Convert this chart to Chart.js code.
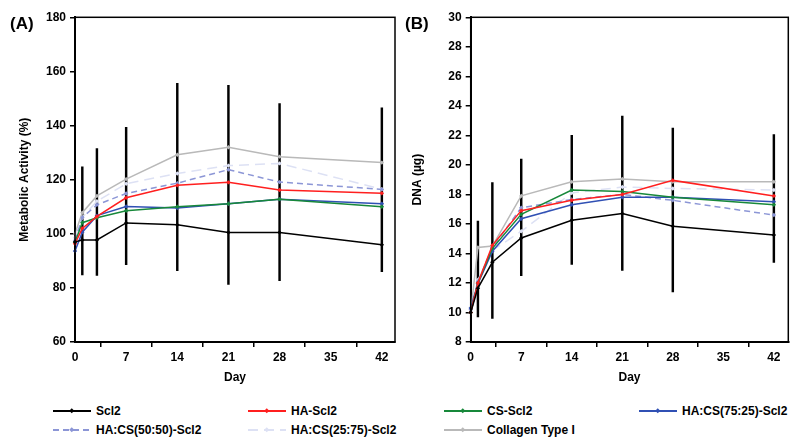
<!DOCTYPE html>
<html lang="en">
<head>
<meta charset="UTF-8">
<title>Metabolic Activity and DNA</title>
<script src="https://cdn.jsdelivr.net/npm/chart.js"></script>
<style>
    body { margin: 0; background: #fff; font-family: "Liberation Sans", Arial, sans-serif; }
    #wrap { position: relative; width: 800px; height: 447px; overflow: hidden; }
    canvas { position: absolute; top: 0; }
    #chartA { left: 0; }
    #chartB { left: 400px; }
    .panel-label { position: absolute; top: 15px; font-weight: bold; font-size: 17px; line-height: 18px; color: #000; }
    .item { position: absolute; display: flex; align-items: center; font-weight: bold; font-size: 12px; color: #000; white-space: nowrap; }
    .item svg { margin-right: 5px; }
</style>
</head>
<body>
<div id="wrap">
    <canvas id="chartA" width="400" height="385"></canvas>
    <canvas id="chartB" width="400" height="385"></canvas>
    <div class="panel-label" style="left:10px">(A)</div>
    <div class="panel-label" style="left:405px">(B)</div>
    <div id="legend"></div>
</div>

<script>
    // === Data ===
    const days = [0, 1, 3, 7, 14, 21, 28, 42];
    const seriesNames = ['Scl2', 'HA-Scl2', 'CS-Scl2', 'HA:CS(75:25)-Scl2', 'HA:CS(50:50)-Scl2', 'HA:CS(25:75)-Scl2', 'Collagen Type I'];

    // (A) metabolic activity, %
    const scl2A = [97, 97.7, 97.7, 104, 103.3, 100.5, 100.5, 95.9];
    const haA = [96.3, 102, 106.4, 113.3, 117.9, 119, 116.2, 115];
    const csA = [96.9, 104.1, 105.9, 108.5, 110, 111.1, 112.8, 110];
    const ha7525A = [93.6, 100.6, 106.7, 110.1, 109.5, 111.1, 112.8, 111.1];
    const ha5050A = [97.5, 106, 110.7, 114.9, 118.7, 123.7, 119.1, 116.4];
    const ha2575A = [98.5, 106, 112, 118.5, 122.3, 125.2, 126, 116.5];
    const colA = [100, 107.8, 114, 120.2, 129.2, 132, 128.5, 126.3];

    // (B) DNA, µg
    const scl2B = [10, 11.65, 13.4, 15.05, 16.25, 16.7, 15.85, 15.25];
    const haB = [10, 12, 14.55, 16.9, 17.6, 18, 18.95, 17.9];
    const csB = [10, 12, 14.35, 16.65, 18.3, 18.2, 17.8, 17.3];
    const ha7525B = [10.3, 11.95, 14.15, 16.35, 17.3, 17.8, 17.8, 17.5];
    const ha5050B = [10.2, 12.1, 14.4, 17.1, 17.65, 18, 17.6, 16.6];
    const ha2575B = [10.1, 12.2, 14.2, 15.5, 18.1, 18.5, 18.4, 18.3];
    const colB = [10, 14.4, 14.5, 17.9, 18.85, 19.05, 18.85, 18.85];

    // error bars (black)
    const errDays = [1, 3, 7, 14, 21, 28, 42];
    const errLoA = [84.8, 84.6, 88.6, 86.4, 81.3, 82.7, 86];
    const errHiA = [124.7, 131.5, 139.3, 155.6, 154.9, 148.1, 146.5];
    const errLoB = [9.7, 9.6, 12.5, 13.25, 12.85, 11.4, 13.4];
    const errHiB = [16.2, 18.8, 20.4, 22, 23.3, 22.5, 22.05];

    const xTicks = [0, 7, 14, 21, 28, 35, 42];
    const yTicksA = [60, 80, 100, 120, 140, 160, 180];
    const yTicksB = [8, 10, 12, 14, 16, 18, 20, 22, 24, 26, 28, 30];

    // === Styles ===
    const colors = ['#000000', '#ff1f1f', '#17883a', '#3050b4', '#8c96d6', '#dde1f4', '#b9b9b9'];
    const dashes = [[], [], [], [], [6, 4], [10, 6], []];
    const fontBold = { family: '"Liberation Sans", Arial, sans-serif', size: 12, weight: 'bold' };

    const boxPlugin = {
        id: 'box',
        afterDatasetsDraw(chart) {
            const { ctx, chartArea: a } = chart;
            ctx.save();
            ctx.strokeStyle = '#000';
            ctx.lineWidth = 1.5;
            ctx.strokeRect(a.left, a.top, a.right - a.left, a.bottom - a.top);
            ctx.restore();
        }
    };

    function makePanel(id, series, errLo, errHi, yTicks, yTitle, xMax, padLeft, yWidth, padRight) {
        const datasets = series.map((vals, i) => ({
            type: 'line',
            label: seriesNames[i],
            data: days.map((d, j) => ({ x: d, y: vals[j] })),
            borderColor: colors[i],
            backgroundColor: colors[i],
            borderWidth: 1.5,
            borderDash: dashes[i],
            pointStyle: 'rectRot',
            pointRadius: 2.2,
            pointBorderWidth: 0,
            tension: 0,
            clip: false,
            order: 1
        }));
        datasets.push({
            type: 'bar',
            label: 'error',
            data: errDays.map((d, j) => ({ x: d, y: [errLo[j], errHi[j]] })),
            backgroundColor: '#000',
            borderWidth: 0,
            barThickness: 1.8,
            grouped: false,
            order: 99
        });

        const yMin = yTicks[0], yMax = yTicks[yTicks.length - 1];
        new Chart(document.getElementById(id), {
            type: 'line',
            data: { datasets },
            options: {
                responsive: false,
                animation: false,
                layout: { padding: { left: padLeft, top: 17.3, right: padRight, bottom: 0 } },
                plugins: { legend: { display: false }, tooltip: { enabled: false } },
                scales: {
                    x: {
                        type: 'linear', min: 0, max: xMax, offset: false,
                        afterBuildTicks: s => { s.ticks = xTicks.map(v => ({ value: v })); },
                        ticks: { color: '#000', font: fontBold, padding: 3, maxRotation: 0, autoSkip: false },
                        grid: { display: true, drawOnChartArea: false, drawTicks: true, tickLength: 5, color: '#000', lineWidth: 1.5 },
                        border: { display: true, color: '#000', width: 2 },
                        title: { display: true, text: 'Day', color: '#000', font: fontBold, padding: 0 },
                        afterFit: s => { s.height = 43; }
                    },
                    y: {
                        type: 'linear', min: yMin, max: yMax,
                        afterBuildTicks: s => { s.ticks = yTicks.map(v => ({ value: v })); },
                        ticks: { color: '#000', font: fontBold, padding: 4, autoSkip: false },
                        grid: { display: true, drawOnChartArea: false, drawTicks: true, tickLength: 5, color: '#000', lineWidth: 1.5 },
                        border: { display: true, color: '#000', width: 2 },
                        title: { display: true, text: yTitle, color: '#000', font: fontBold, padding: 0 },
                        afterFit: s => { s.width = yWidth; }
                    }
                }
            },
            plugins: [boxPlugin]
        });
    }

    makePanel('chartA', [scl2A, haA, csA, ha7525A, ha5050A, ha2575A, colA], errLoA, errHiA,
        yTicksA, 'Metabolic Activity (%)', 43.8, 17, 58, 5);
    makePanel('chartB', [scl2B, haB, csB, ha7525B, ha5050B, ha2575B, colB], errLoB, errHiB,
        yTicksB, 'DNA (µg)', 44, 10.5, 60.2, 11.7);

    // === Legend ===
    const legendCols = [53, 248, 444, 639];
    const legendRows = [411, 430];
    const legend = document.getElementById('legend');
    seriesNames.forEach((name, i) => {
        const el = document.createElement('div');
        el.className = 'item';
        el.style.left = legendCols[i % 4] + 'px';
        el.style.top = (legendRows[Math.floor(i / 4)] - 8) + 'px';
        const dash = dashes[i].length ? `stroke-dasharray="${dashes[i].join(' ')}"` : '';
        el.innerHTML =
            `<svg width="38" height="16"><line x1="0" y1="8" x2="38" y2="8" stroke="${colors[i]}" stroke-width="2" ${dash}/>` +
            `<rect x="17" y="6" width="3.5" height="3.5" fill="${colors[i]}" transform="rotate(45 18.75 7.75)"/></svg>` +
            `<span>${name}</span>`;
        legend.appendChild(el);
    });
</script>
</body>
</html>
